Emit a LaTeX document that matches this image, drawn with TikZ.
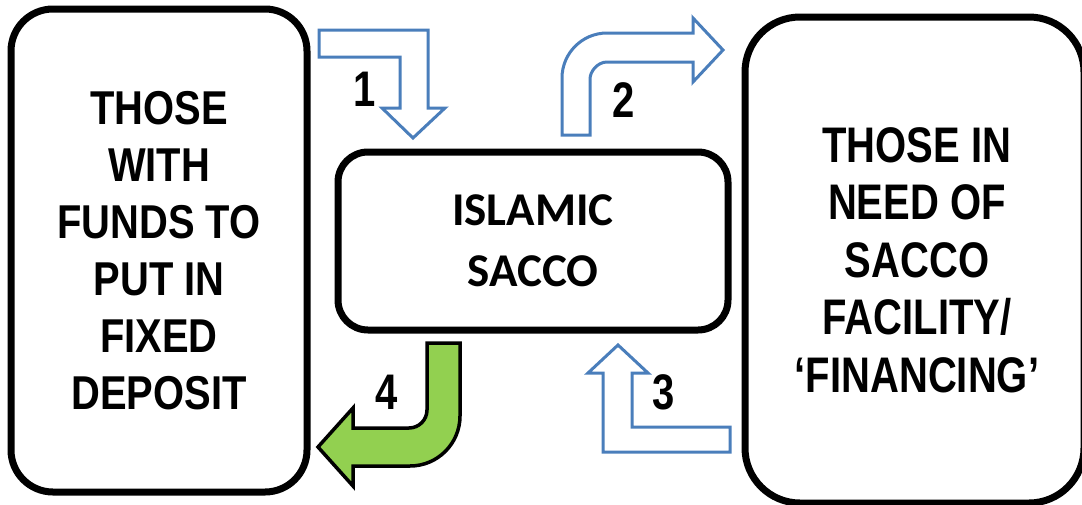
\documentclass[tikz,border=0pt]{standalone}
\usepackage{fontspec}
\newfontfamily\narrowfont[FakeStretch=0.84]{Liberation Sans}
\newfontfamily\narrowboldfont[FakeStretch=0.80]{Liberation Sans}
\newfontfamily\calfont{Carlito}
\definecolor{arrowblue}{HTML}{4A7EBB}
\definecolor{arrowgreen}{HTML}{92D050}
\tikzset{
  bigbox/.style={draw=black, line width=7pt, rounded corners=#1, inner sep=0pt, align=center},
  bluearrow/.style={draw=arrowblue, line width=3pt, fill=white, line join=miter},
  greenarrow/.style={draw=black, line width=3.5pt, fill=arrowgreen, line join=miter},
  numlabel/.style={font=\narrowboldfont\bfseries\fontsize{50}{50}\selectfont, inner sep=0pt}
}
\begin{document}
\begin{tikzpicture}[x=1pt, y=-1pt]
\useasboundingbox (0,0) rectangle (1082,504);

% boxes
\node[bigbox=42pt, minimum width=296pt, minimum height=483pt,
      font=\narrowfont\bfseries\fontsize{47.5}{57}\selectfont] (funds) at (159,250.5)
  {THOSE\\WITH\\FUNDS TO\\PUT IN\\FIXED\\DEPOSIT};
\node[bigbox=30pt, minimum width=390pt, minimum height=178pt,
      font=\calfont\bfseries\fontsize{47}{61}\selectfont] (sacco) at (533,241)
  {ISLAMIC\\SACCO};
\node[bigbox=55pt, minimum width=339pt, minimum height=486pt,
      font=\narrowboldfont\bfseries\fontsize{50}{57.5}\selectfont] (need) at (914.5,260)
  {\hspace*{5pt}THOSE IN\\\hspace*{5pt}NEED OF\\\hspace*{5pt}SACCO\\\hspace*{5pt}FACILITY/\\\hspace*{5pt}‘FINANCING’};

% arrow 1 (down into sacco)
\draw[bluearrow] (319,30) -- (428,30) -- (428,108) -- (445,108) -- (413,138)
  -- (382,108) -- (400,108) -- (400,57) -- (319,57) -- cycle;
% arrow 2 (up and right to those in need)
\draw[bluearrow] (562,135) -- (562,78) .. controls (562,53.2) and (582.2,33) .. (607,33)
  -- (693,33) -- (693,18) -- (723,50) -- (693,82) -- (693,62) -- (607,62)
  .. controls (597.6,62) and (590,71.4) .. (590,79) -- (590,135) -- cycle;
% arrow 3 (from those in need up to sacco)
\draw[bluearrow] (618,345) -- (648,373) -- (632,373) -- (632,427) -- (730,427)
  -- (730,452) -- (603,452) -- (603,373) -- (588,373) -- cycle;
% arrow 4 (green, from sacco down-left to funds)
\draw[greenarrow] (427,343) -- (460,343) -- (460,416) .. controls (460,443.6) and (437.6,466) .. (410,466)
  -- (353,466) -- (353,486) -- (318,447) -- (353,408) -- (353,428) -- (409,428)
  .. controls (418.9,428) and (427,419.9) .. (427,410) -- cycle;

% numbers
\node[numlabel] (n1) at (365,89) {1};
\node[numlabel] (n2) at (624,100) {2};
\node[numlabel] (n3) at (664,392) {3};
\node[numlabel] (n4) at (387,392) {4};
\end{tikzpicture}
\end{document}
